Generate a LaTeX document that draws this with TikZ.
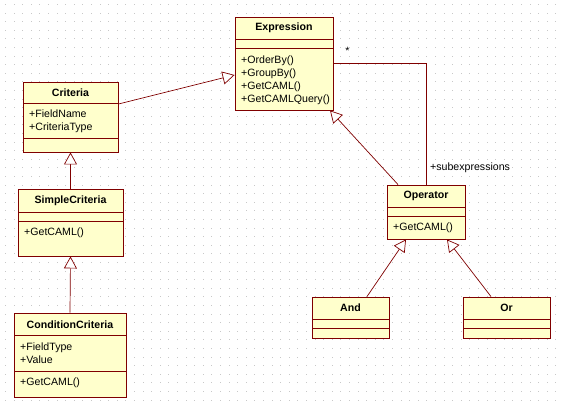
\documentclass[tikz,border=0pt]{standalone}
\usepackage{fontspec}
\setmainfont{Liberation Sans}
\usetikzlibrary{arrows.meta}

\definecolor{umlline}{RGB}{128,0,0}
\definecolor{umlfill}{RGB}{255,255,204}
\definecolor{griddot}{RGB}{200,200,200}

\tikzset{
  classbox/.style={draw=umlline, fill=umlfill, line width=0.9pt, inner sep=0pt},
  classname/.style={font=\fontsize{10.6}{13}\selectfont\bfseries, inner sep=0pt},
  members/.style={font=\fontsize{10.6}{12.8}\selectfont, align=left, inner sep=0pt, anchor=north west},
  inherit/.style={draw=umlline, line width=0.7pt,
    -{Triangle[open, length=12pt, width=13pt, fill=white]}},
  assoc/.style={draw=umlline, line width=0.7pt}
}

\begin{document}
\begin{tikzpicture}[x=1pt, y=-1pt]
    \useasboundingbox (0,0) rectangle (563,405);
    % dotted background
    \fill[white] (0,0) rectangle (563,405);
    \foreach \i in {0,...,65} {
      \foreach \j in {0,...,46} {
        \fill[griddot] (5+8.6*\i,4+8.6*\j) rectangle ++(1,1);
      }
    }

    % classes
    \node[classbox, minimum width=98pt, minimum height=93pt] (expr) at (284,63.5) {};
    \draw[umlline, line width=0.9pt] (235,39) -- (333,39) (235,48) -- (333,48);
    \node[classname] (exprT) at (284,27.5) {Expression};
    \node[members] (exprM) at (241,56) {+OrderBy()\\+GroupBy()\\+GetCAML()\\+GetCAMLQuery()};

    \node[classbox, minimum width=95pt, minimum height=70pt] (crit) at (70.5,117) {};
    \draw[umlline, line width=0.9pt] (23,103) -- (118,103) (23,138) -- (118,138);
    \node[classname] (critT) at (70.5,92.5) {Criteria};
    \node[members] (critM) at (29,109.5) {+FieldName\\+CriteriaType};

    \node[classbox, minimum width=105pt, minimum height=67pt] (simp) at (70.5,222.5) {};
    \draw[umlline, line width=0.9pt] (18,212) -- (123,212) (18,221) -- (123,221);
    \node[classname] (simpT) at (70.5,200.5) {SimpleCriteria};
    \node[members] (simpM) at (24,227.5) {+GetCAML()};

    \node[classbox, minimum width=112pt, minimum height=84pt] (cond) at (70,355) {};
    \draw[umlline, line width=0.9pt] (14,335) -- (126,335) (14,371) -- (126,371);
    \node[classname] (condT) at (70,324.5) {ConditionCriteria};
    \node[members] (condM) at (20,342.5) {+FieldType\\+Value};
    \node[members] (condO) at (20,377.5) {+GetCAML()};

    \node[classbox, minimum width=78pt, minimum height=54pt] (oper) at (426,212) {};
    \draw[umlline, line width=0.9pt] (387,207) -- (465,207) (387,216) -- (465,216);
    \node[classname] (operT) at (426,196) {Operator};
    \node[members] (operM) at (393,223) {+GetCAML()};

    \node[classbox, minimum width=77pt, minimum height=41pt] (andc) at (350.5,317.5) {};
    \draw[umlline, line width=0.9pt] (312,319) -- (389,319) (312,328) -- (389,328);
    \node[classname] (andT) at (350.5,308) {And};

    \node[classbox, minimum width=87pt, minimum height=41pt] (orc) at (506.5,317.5) {};
    \draw[umlline, line width=0.9pt] (463,319) -- (550,319) (463,328) -- (550,328);
    \node[classname] (orT) at (506.5,308) {Or};

    % generalisations
    \draw[inherit] ([yshift=13pt]crit.east) -- ([yshift=-11.5pt]expr.west);
    \draw[inherit] (simp.north) -- (crit.south);
    \draw[inherit] (cond.north) -- (simp.south);
    \draw[inherit] ([xshift=-28pt]oper.north) -- ([xshift=46pt]expr.south);
    \draw[inherit] ([xshift=16.5pt]andc.north) -- ([xshift=-20pt]oper.south);
    \draw[inherit] ([xshift=-15.5pt]orc.north) -- ([xshift=21pt]oper.south);

    % association
    \draw[assoc] (expr.east) -| (oper.north);
    \node[font=\fontsize{10.6}{13}\selectfont, inner sep=0pt] (mult) at (347.5,51) {*};
    \node[font=\fontsize{10.6}{13}\selectfont, inner sep=0pt, anchor=west] (role) at (430,167.5) {+subexpressions};
\end{tikzpicture}
\end{document}
